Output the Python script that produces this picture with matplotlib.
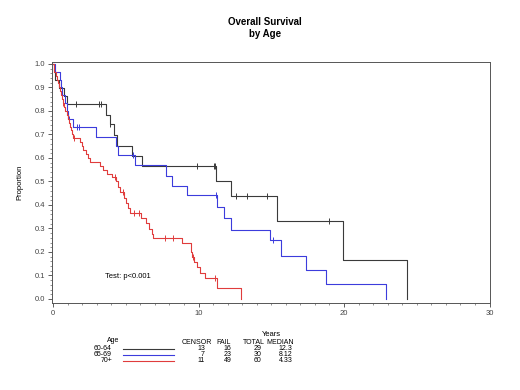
import numpy as np
import matplotlib
matplotlib.use('Agg')
import matplotlib.pyplot as plt
from matplotlib.lines import Line2D
from matplotlib.ticker import MultipleLocator, FormatStrFormatter

plt.rcParams['font.family'] = ['Liberation Sans', 'DejaVu Sans']

# ---------------------------------------------------------------------------
# Kaplan-Meier curves (step times, survival after step)
# ---------------------------------------------------------------------------
groups = ['60-64', '65-69', '70+']
colors = ['#3a3a3a', '#3c3cdc', '#e03c3c']

t_6064 = [0, 0.05, 0.12, 0.43, 0.78, 0.94, 3.64, 3.90, 4.20, 4.37, 5.45, 6.10,
          11.20, 12.23, 15.40, 19.90, 24.30]
s_6064 = [1.0, 0.966, 0.931, 0.897, 0.862, 0.828, 0.783, 0.745, 0.698, 0.652,
          0.609, 0.567, 0.502, 0.440, 0.332, 0.166, 0.0]
c_6064 = [1.6, 3.16, 3.28, 3.95, 9.87, 11.04, 11.13, 12.6, 13.35, 14.7, 18.97]

t_6569 = [0, 0.15, 0.45, 0.55, 0.65, 0.80, 0.95, 1.05, 1.40, 2.98, 4.33, 4.49,
          5.64, 7.75, 8.16, 9.20, 11.25, 11.77, 12.23, 14.90, 15.67, 17.39,
          18.74, 22.87]
s_6569 = [1.0, 0.967, 0.933, 0.900, 0.867, 0.833, 0.800, 0.767, 0.733, 0.690,
          0.652, 0.614, 0.570, 0.523, 0.481, 0.443, 0.393, 0.343, 0.294, 0.251,
          0.184, 0.123, 0.062, 0.0]
c_6569 = [1.1, 1.65, 1.8, 5.5, 11.2, 15.1]

t_70 = [0, 0.05, 0.10, 0.18, 0.25, 0.32, 0.39, 0.47, 0.55, 0.62, 0.70, 0.75,
        0.82, 0.94, 1.05, 1.12, 1.17, 1.25, 1.32, 1.40, 1.86, 1.97, 2.08, 2.27,
        2.38, 2.54, 3.23, 3.46, 3.69, 4.03, 4.31, 4.45, 4.60, 4.88, 5.00, 5.18,
        5.30, 6.03, 6.39, 6.62, 6.80, 6.85, 8.89, 9.46, 9.55, 9.69, 9.92, 10.10,
        10.45, 11.25, 12.95]
s_70 = [1.0, 0.983, 0.967, 0.950, 0.933, 0.917, 0.900, 0.883, 0.867, 0.850,
        0.833, 0.817, 0.800, 0.783, 0.767, 0.750, 0.733, 0.717, 0.700, 0.683,
        0.667, 0.650, 0.633, 0.617, 0.600, 0.583, 0.567, 0.550, 0.533, 0.517,
        0.500, 0.478, 0.457, 0.430, 0.407, 0.386, 0.365, 0.343, 0.322, 0.297,
        0.276, 0.258, 0.237, 0.200, 0.180, 0.159, 0.137, 0.109, 0.088, 0.045,
        0.0]
c_70 = [0.72, 1.42, 4.26, 4.79, 5.56, 5.9, 7.7, 8.27, 9.6, 11.13]

times = [t_6064, t_6569, t_70]
survs = [s_6064, s_6569, s_70]
censors = [c_6064, c_6569, c_70]

n_censor = [13, 7, 11]
n_fail = [16, 23, 49]
n_total = [29, 30, 60]
medians = ['12.3', '8.12', '4.33']

# ---------------------------------------------------------------------------
fig = plt.figure(figsize=(5.2, 3.9), dpi=100)
ax = fig.add_axes([0.1, 0.2231, 0.8423, 0.618])

for t, s, c, col in zip(times, survs, censors, colors):
    ax.step(t, s, where='post', color=col, lw=0.8)
    idx = np.searchsorted(t, c, side='right') - 1
    ax.plot(c, np.asarray(s)[idx], ls='none', marker='|', ms=5, mew=0.7,
            color=col)

ax.set_xlim(-0.07, 30.03)
ax.set_ylim(-0.017, 1.0085)
ax.xaxis.set_major_locator(MultipleLocator(10))
ax.xaxis.set_minor_locator(MultipleLocator(1))
ax.yaxis.set_major_locator(MultipleLocator(0.1))
ax.yaxis.set_minor_locator(MultipleLocator(0.02))
ax.yaxis.set_major_formatter(FormatStrFormatter('%.1f'))
ax.tick_params(which='major', length=3, width=0.6, labelsize=5.5,
               colors='#444444', pad=2)
ax.tick_params(which='minor', length=1.5, width=0.5, colors='#666666')
for sp in ax.spines.values():
    sp.set_linewidth(0.7)
    sp.set_color('#555555')

ax.set_xlabel('Years', fontsize=5.5, labelpad=10)
ax.set_ylabel('Proportion', fontsize=5.5, labelpad=8)
ax.text(3.57, 0.094, 'Test: p<0.001', fontsize=5.5, va='center')

fig.text(0.51, 0.944, 'Overall Survival', ha='center', va='center',
         fontsize=7, fontweight='bold')
fig.text(0.51, 0.913, 'by Age', ha='center', va='center',
         fontsize=7, fontweight='bold')

# legend table below the plot
fs = 5
hy = 1 - 342.5 / 390
fig.text(113 / 520, 1 - 341 / 390, 'Age', ha='center', va='center', fontsize=fs)
for x, lab in zip([181.5, 216.5, 243, 266.5], ['CENSOR', 'FAIL', 'TOTAL', 'MEDIAN']):
    fig.text(x / 520, hy, lab, ha='left', va='center', fontsize=fs)
row_y = [348.5, 354.5, 360.5]
for i, g in enumerate(groups):
    y = 1 - row_y[i] / 390
    fig.text(112 / 520, y, g, ha='right', va='center', fontsize=fs)
    fig.add_artist(Line2D([122.7 / 520, 174 / 520], [y, y], color=colors[i],
                          lw=0.8, transform=fig.transFigure))
    fig.text(205 / 520, y, str(n_censor[i]), ha='right', va='center', fontsize=fs)
    fig.text(231.5 / 520, y, str(n_fail[i]), ha='right', va='center', fontsize=fs)
    fig.text(261.5 / 520, y, str(n_total[i]), ha='right', va='center', fontsize=fs)
    fig.text(292.5 / 520, y, medians[i], ha='right', va='center', fontsize=fs)

fig.savefig('out.png', dpi=100)
